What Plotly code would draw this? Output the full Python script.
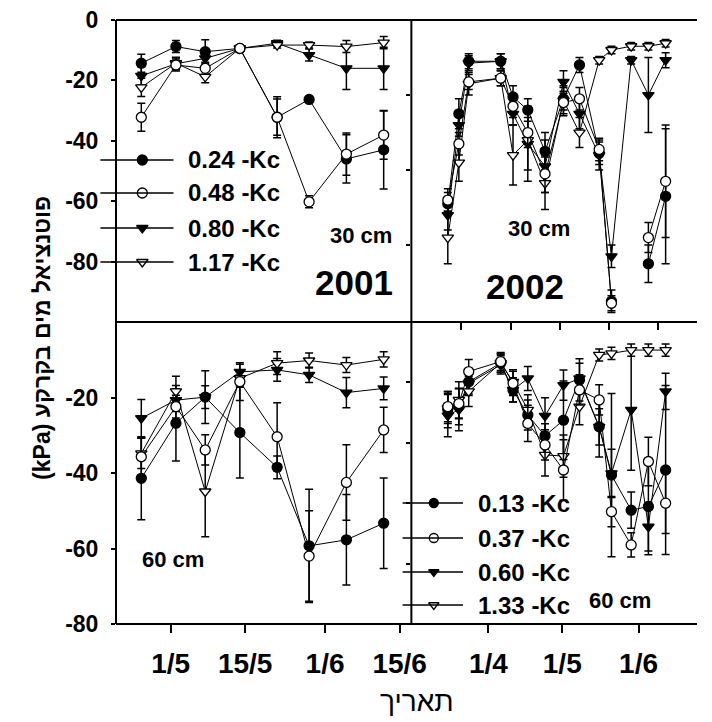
import plotly.graph_objects as go

# ---------------- data ----------------
L_DAYS = [-5.5, 1, 6.5, 13, 20, 26, 33, 40]          # 2001, days from 1/5
R_DOY = [74.5, 79, 83, 96, 101, 107, 114, 121.5, 128, 136, 141, 149, 156, 163]  # 2002, day of year

L_TICKVALS = [0, 14, 29, 43]
L_TICKTEXT = ["1/5", "15/5", "1/6", "15/6"]
R_TICKVALS = [91, 121, 152]
R_TICKTEXT = ["1/4", "1/5", "1/6"]
TR_XTICKS = [80, 100, 120, 140, 160]

Y_TOP_VALS = [0, -20, -40, -60, -80]
Y_TOP_TEXT = ["0", "-20", "-40", "-60", "-80"]
Y_BOT_VALS = [-20, -40, -60, -80]
Y_BOT_TEXT = ["-20", "-40", "-60", "-80"]

LEG_2001 = ["0.24 -Kc", "0.48 -Kc", "0.80 -Kc", "1.17 -Kc"]
LEG_2002 = ["0.13 -Kc", "0.37 -Kc", "0.60 -Kc", "1.33 -Kc"]

# top-left: 2001, 30 cm
TL_FC = [-14.3, -8.8, -10.5, -9.4, -32.2, -26.3, -46.0, -43.0]
TL_OC = [-32.2, -14.9, -16.0, -9.4, -32.2, -60.2, -44.4, -38.1]
TL_FT = [-18.5, -14.5, -12.7, -9.4, -7.7, -11.6, -16.0, -16.0]
TL_OT = [-22.3, -14.3, -18.8, -9.4, -8.3, -8.3, -8.8, -7.5]
TL_FC_E = [3, 2, 4, 1, 6, 1, 8, 13]
TL_OC_E = [4.6, 2, 2, 1, 6.8, 2, 7, 8]
TL_FT_E = [3, 2, 3, 1, 1, 2, 7, 7]
TL_OT_E = [3, 2, 2, 1, 1, 1, 2, 2]

# top-right: 2002, 30 cm
TR_FC = [-49, -25, -11, -11, -20.5, -24, -35, -21, -12, -35.5, -75, None, -65, -47]
TR_OC = [-48, -33, -16.5, -15.5, -23, -30, -41, -22, -21, -34.5, -75.5, None, -58, -43]
TR_FT = [-52, -28, -11.5, -11, -25, -33, -39, -16.5, -25, -36, -63, -10.7, -20, -10.7]
TR_OT = [-58, -38, -17, -15.5, -36, -32, -43.5, -21.5, -30, -10.7, -8, -7, -7, -6.2]
TR_FC_E = [3, 4, 2, 2, 3, 3, 5, 3, 2, 3, 3, None, 5, 18]
TR_OC_E = [3, 3, 2, 2, 3, 4, 5, 3, 3, 3, 2, None, 4, 15]
TR_FT_E = [4, 3, 2, 2, 3, 10, 7, 3, 4, 4, 3, 1, 10, 2]
TR_OT_E = [7, 5, 3, 2, 8, 8, 7, 4, 4, 1, 1, 1, 1, 1]

# bottom-left: 2001, 60 cm
BL_FC = [-41.4, -26.8, -19.9, -29.3, -38.5, -59.3, -57.7, -53.3]
BL_OC = [-35.7, -22.4, -33.9, -15.8, -30.4, -62.0, -42.5, -28.6]
BL_FT = [-25.5, -20.7, -19.9, -13.2, -12.7, -14.0, -18.7, -17.6]
BL_OT = [-34.8, -18.4, -44.9, -14.9, -10.9, -10.2, -11.4, -9.9]
BL_FC_E = [11, 10, 7, 12, 3, 15, 12, 12]
BL_OC_E = [5, 3, 4, 5, 9, 12, 10, 6]
BL_FT_E = [5, 3, 3, 2, 3, 2, 4, 3]
BL_OT_E = [4, 4, 12, 2, 3, 2, 2, 2]

# bottom-right: 2002, 60 cm
BR_FC = [-29, -28, -19.8, -13.6, -22.5, -30.8, -37.7, -32.5, -19.2, -34.7, -50.7, -62.3, -61.1, -49]
BR_OC = [-28, -27, -16.4, -13.1, -20.3, -33.6, -40.7, -49, -22.5, -25.8, -62.8, -73.8, -46.2, -60]
BR_FT = [-31, -29, -20.3, -14.2, -22.5, -18.7, -31.1, -20.9, -18.7, -34.7, -50.1, -29.1, -67.8, -23]
BR_OT = [-28.6, -25.8, -23, -13.6, -19.8, -29.1, -44, -44.4, -28, -10.9, -10.4, -9.3, -9.3, -9.3]
BR_FC_E = [6, 6, 4, 3, 4, 5, 4, 13, 7, 10, 27, 6, 16, 28]
BR_OC_E = [5, 5, 4, 3, 4, 6, 5, 10, 5, 5, 5, 4, 8, 10]
BR_FT_E = [7, 7, 4, 3, 4, 4, 6, 5, 5, 6, 8, 20, 8, 6]
BR_OT_E = [5, 6, 5, 3, 4, 5, 7, 7, 6, 2, 2, 2, 2, 2]

# ---------------- geometry helpers ----------------
W, H = 712, 722
ML, MR, MT, MB = 116, 0, 20, 98
PW = W - ML - MR
PH = H - MT - MB
XDIV = 419
YDIV = 322
XD = (XDIV - ML) / PW


def pxx(p):
    return (p - ML) / PW


def pxy(p):
    return (H - MB - p) / PH


SYMS = [("circle", "black"), ("circle", "white"), ("triangle-down", "black"), ("triangle-down", "white")]

fig = go.Figure()

panels = [
    ("x", "y", L_DAYS, [TL_FC, TL_OC, TL_FT, TL_OT], [TL_FC_E, TL_OC_E, TL_FT_E, TL_OT_E]),
    ("x2", "y2", R_DOY, [TR_FC, TR_OC, TR_FT, TR_OT], [TR_FC_E, TR_OC_E, TR_FT_E, TR_OT_E]),
    ("x3", "y3", L_DAYS, [BL_FC, BL_OC, BL_FT, BL_OT], [BL_FC_E, BL_OC_E, BL_FT_E, BL_OT_E]),
    ("x4", "y4", R_DOY, [BR_FC, BR_OC, BR_FT, BR_OT], [BR_FC_E, BR_OC_E, BR_FT_E, BR_OT_E]),
]

for xa, ya, xs, series, errs in panels:
    for k in [2, 0, 3, 1]:
        sym, col = SYMS[k]
        fig.add_trace(go.Scatter(
            x=xs, y=series[k], xaxis=xa, yaxis=ya, mode="lines+markers",
            line=dict(color="black", width=1),
            marker=dict(symbol=sym, size=10, color=col, line=dict(color="black", width=1.3)),
            error_y=dict(type="data", array=errs[k], color="black", thickness=1.5, width=4),
            showlegend=False, hoverinfo="skip"))

# ---------------- legends (markers on an overlay pixel axis) ----------------
LEG_TL = dict(rows=[160, 193, 228, 262], x0=100, x1=175, xm=143, xt=188, labels=LEG_2001, size=10)
LEG_BR = dict(rows=[503, 538, 572, 605], x0=410, x1=472, xm=442, xt=485, labels=LEG_2002, size=9)
shapes = []
annotations = []
for leg in (LEG_TL, LEG_BR):
    for k, yy in enumerate(leg["rows"]):
        shapes.append(dict(type="line", xref="paper", yref="paper",
                           x0=pxx(leg["x0"]), x1=pxx(leg["x1"]), y0=pxy(yy), y1=pxy(yy),
                           line=dict(color="black", width=1.5)))
        sym, col = SYMS[k]
        fig.add_trace(go.Scatter(
            x=[leg["xm"]], y=[yy], xaxis="x5", yaxis="y5", mode="markers", cliponaxis=False,
            marker=dict(symbol=sym, size=leg["size"], color=col, line=dict(color="black", width=1.3)),
            showlegend=False, hoverinfo="skip"))
        annotations.append(dict(xref="paper", yref="paper", x=pxx(leg["xt"]), y=pxy(yy),
                                xanchor="left", yanchor="middle", showarrow=False,
                                text=leg["labels"][k],
                                font=dict(family="Liberation Sans", size=24, color="black", weight="bold")))

# frame lines
for (x0, y0, x1, y1) in [(ML, MT, W, MT), (ML, YDIV, W, YDIV), (ML, H - MB, W, H - MB),
                         (ML, MT, ML, H - MB), (XDIV, MT, XDIV, H - MB)]:
    shapes.append(dict(type="line", xref="paper", yref="paper",
                       x0=pxx(x0), x1=pxx(x1), y0=pxy(y0), y1=pxy(y1),
                       line=dict(color="black", width=2)))


def txt(x, y, s, size, weight="bold"):
    annotations.append(dict(xref="paper", yref="paper", x=pxx(x), y=pxy(y), text=s,
                            showarrow=False, xanchor="center", yanchor="middle",
                            font=dict(family="Liberation Sans", size=size, color="black", weight=weight)))


txt(367, 235, "30 cm", 22)
txt(360, 283, "2001", 35)
txt(550, 228, "30 cm", 22)
txt(536, 286, "2002", 35)
txt(174, 559, "60 cm", 22)
txt(633, 600, "60 cm", 22)

# axis titles
annotations.append(dict(xref="paper", yref="paper", x=pxx(40), y=pxy(338), textangle=-90,
                        text="(kPa) פוטנציאל מים בקרקע", showarrow=False,
                        xanchor="center", yanchor="middle",
                        font=dict(family="Liberation Sans", size=23, color="black", weight="bold")))
annotations.append(dict(xref="paper", yref="paper", x=pxx(425), y=pxy(702),
                        text="תאריך", showarrow=False, xanchor="center", yanchor="middle",
                        font=dict(family="Liberation Sans", size=28, color="black")))

TF = dict(family="Liberation Sans", size=23, color="black", weight="bold")
XF = dict(family="Liberation Sans", size=28, color="black", weight="bold")
common = dict(showgrid=False, zeroline=False, showline=False, tickcolor="black", tickwidth=1.5)

LX_RANGE = [-10.25, 45.2]
RX_RANGE = [59.7, 175.75]

fig.update_layout(
    width=W, height=H, margin=dict(l=ML, r=MR, t=MT, b=MB),
    paper_bgcolor="white", plot_bgcolor="rgba(0,0,0,0)",
    shapes=shapes, annotations=annotations,
    xaxis=dict(domain=[0, XD], anchor="y", range=LX_RANGE, ticks="", showticklabels=False, **common),
    yaxis=dict(domain=[0.5, 1], anchor="x", range=[-100, 0], tickvals=Y_TOP_VALS, ticktext=Y_TOP_TEXT,
               ticks="outside", ticklen=4, tickfont=TF, ticklabelstandoff=8, **common),
    xaxis2=dict(domain=[XD, 1], anchor="y2", range=RX_RANGE, tickvals=TR_XTICKS, ticks="outside",
                ticklen=7, showticklabels=False, **common),
    yaxis2=dict(domain=[0.5, 1], anchor="x2", range=[-80.5, 0], tickvals=[-20, -40, -60],
                ticks="outside", ticklen=4, showticklabels=False, **common),
    xaxis3=dict(domain=[0, XD], anchor="y3", range=LX_RANGE, tickvals=L_TICKVALS, ticktext=L_TICKTEXT,
                ticks="outside", ticklen=8, tickfont=XF, ticklabelstandoff=6, **common),
    yaxis3=dict(domain=[0, 0.5], anchor="x3", range=[-80, 0], tickvals=Y_BOT_VALS, ticktext=Y_BOT_TEXT,
                ticks="outside", ticklen=4, tickfont=TF, ticklabelstandoff=8, **common),
    xaxis4=dict(domain=[XD, 1], anchor="y4", range=RX_RANGE, tickvals=R_TICKVALS, ticktext=R_TICKTEXT,
                ticks="outside", ticklen=8, tickfont=XF, ticklabelstandoff=6, **common),
    yaxis4=dict(domain=[0, 0.5], anchor="x4", range=[-100, 0], tickvals=[-20, -40, -60, -80],
                ticks="outside", ticklen=4, showticklabels=False, **common),
    xaxis5=dict(domain=[0, 1], anchor="y5", range=[ML, W], visible=False),
    yaxis5=dict(domain=[0, 1], anchor="x5", range=[H - MB, MT], visible=False),
)

fig.write_html("out.html")
